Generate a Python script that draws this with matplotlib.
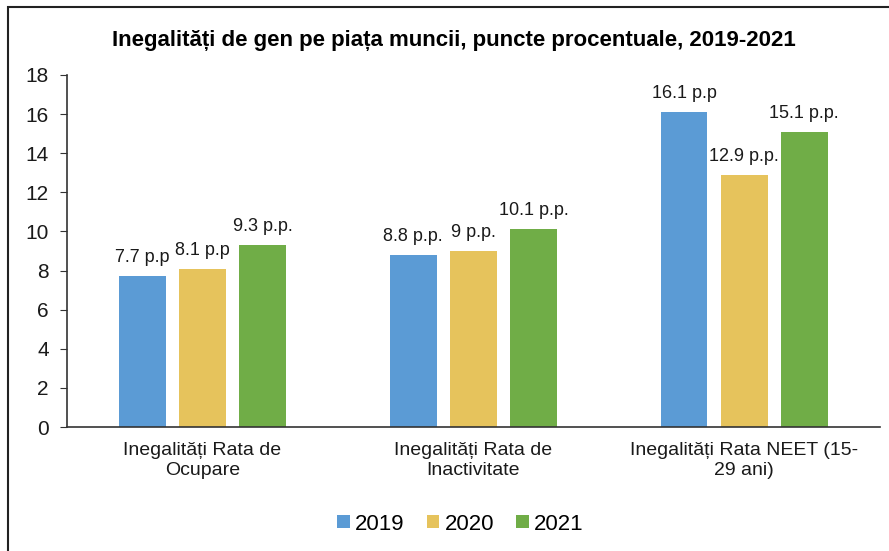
import numpy as np
import matplotlib.pyplot as plt
from matplotlib.patches import Rectangle

plt.rcParams['font.family'] = ['Liberation Sans', 'DejaVu Sans']

categories = ['Inegalități Rata de\nOcupare', 'Inegalități Rata de\nInactivitate', 'Inegalități Rata NEET (15-\n29 ani)']
years = ['2019', '2020', '2021']
values = {
    '2019': [7.7, 8.8, 16.1],
    '2020': [8.1, 9.0, 12.9],
    '2021': [9.3, 10.1, 15.1],
}
bar_labels = {
    '2019': ['7.7 p.p', '8.8 p.p.', '16.1 p.p'],
    '2020': ['8.1 p.p', '9 p.p.', '12.9 p.p.'],
    '2021': ['9.3 p.p.', '10.1 p.p.', '15.1 p.p.'],
}
colors = ['#5B9BD5', '#E6C35C', '#70AD47']

fig = plt.figure(figsize=(8.89, 5.51), dpi=100)
ax = fig.add_axes([0.0754, 0.225, 0.914, 0.639])

x = np.arange(len(categories))
width = 0.173
step = 0.222
for i, yr in enumerate(years):
    pos = x + (i - 1) * step
    bars = ax.bar(pos, values[yr], width, color=colors[i], label=yr)
    for b, lab in zip(bars, bar_labels[yr]):
        ax.text(b.get_x() + b.get_width() / 2, b.get_height() + 0.72, lab,
                ha='center', va='baseline', fontsize=13, color='#1a1a1a')

ax.set_xlim(-0.5, 2.5)
ax.set_ylim(0, 18)
ax.set_yticks(range(0, 19, 2))
ax.set_xticks(x)
ax.set_xticklabels(categories, fontsize=14, color='#1a1a1a')
ax.tick_params(axis='x', length=0, pad=11)
ax.tick_params(axis='y', labelsize=15, length=5, direction='out', pad=8,
               labelcolor='#1a1a1a', color='#333333')
for s in ['top', 'right']:
    ax.spines[s].set_visible(False)
for s in ['left', 'bottom']:
    ax.spines[s].set_color('#333333')
    ax.spines[s].set_linewidth(1.2)

fig.text(0.511, 0.927, 'Inegalități de gen pe piața muncii, puncte procentuale, 2019-2021',
         ha='center', va='center', fontsize=16, fontweight='bold')

fig.legend(loc='center', bbox_to_anchor=(0.518, 0.049), ncol=3, frameon=False,
           fontsize=16, handlelength=0.55, handleheight=0.55, handletextpad=0.25,
           columnspacing=1.0)

# outer frame (cut at right/bottom)
fig.add_artist(Rectangle((0.009, -0.05), 1.1, 1.037, transform=fig.transFigure,
                         fill=False, edgecolor='#222222', linewidth=1.5))

fig.savefig('out.png', dpi=100)
